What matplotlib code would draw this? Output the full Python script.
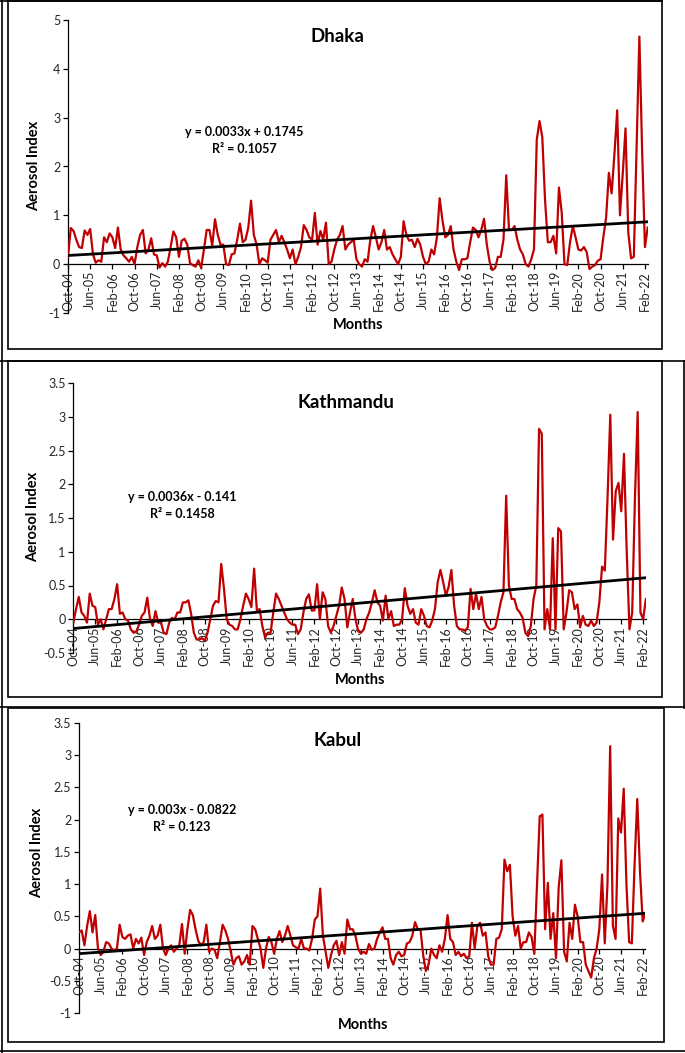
import matplotlib
matplotlib.use('Agg')
import matplotlib.pyplot as plt
from matplotlib.lines import Line2D
from matplotlib.patches import Rectangle
import numpy as np
import pandas as pd

plt.rcParams['font.family'] = ['Lato', 'DejaVu Sans']
plt.rcParams['axes.unicode_minus'] = False

# ---------------- data ----------------
months = pd.date_range('2004-10-01', periods=210, freq='MS').strftime('%b-%y').tolist()

dhaka = [0.15, 0.74, 0.68, 0.5, 0.35, 0.33, 0.69, 0.6, 0.72, 0.2,
         0.03, 0.08, 0.05, 0.55, 0.45, 0.63, 0.55, 0.33, 0.75, 0.3,
         0.18, 0.12, 0.05, 0.15, 0.0, 0.35, 0.6, 0.7, 0.22, 0.3,
         0.53, 0.2, 0.18, -0.07, 0.02, -0.05, 0.05, 0.35, 0.67, 0.55,
         0.15, 0.48, 0.52, 0.4, 0.02, -0.02, -0.05, 0.08, -0.08, 0.3,
         0.7, 0.7, 0.38, 0.92, 0.6, 0.4, 0.4, 0.0, -0.02, 0.2,
         0.22, 0.5, 0.83, 0.45, 0.5, 0.75, 1.3, 0.6, 0.4, 0.0,
         0.12, 0.08, 0.03, 0.5, 0.6, 0.7, 0.45, 0.58, 0.45, 0.3,
         0.12, 0.3, 0.0, 0.15, 0.35, 0.8, 0.7, 0.55, 0.5, 1.05,
         0.4, 0.68, 0.5, 0.85, 0.0, 0.05, 0.3, 0.5, 0.6, 0.78,
         0.3, 0.4, 0.45, 0.5, 0.1, 0.0, -0.05, 0.1, 0.05, 0.5,
         0.78, 0.55, 0.3, 0.45, 0.7, 0.3, 0.35, 0.2, 0.1, 0.0,
         0.15, 0.88, 0.6, 0.48, 0.5, 0.35, 0.52, 0.4, 0.15, 0.0,
         0.05, 0.3, 0.2, 0.55, 1.35, 0.9, 0.55, 0.6, 0.78, 0.3,
         0.05, -0.12, 0.1, 0.1, 0.12, 0.45, 0.75, 0.7, 0.55, 0.7,
         0.93, 0.4, 0.05, -0.12, -0.08, 0.15, 0.15, 0.5, 1.82, 0.7,
         0.7, 0.78, 0.5, 0.3, 0.2, 0.0, -0.05, 0.1, 0.3, 2.55,
         2.93, 2.6, 1.3, 0.45, 0.45, 0.58, 0.22, 1.57, 1.05, 0.0,
         -0.02, 0.45, 0.78, 0.55, 0.3, 0.28, 0.35, 0.25, -0.1, -0.05,
         -0.02, 0.07, 0.1, 0.55, 0.95, 1.87, 1.45, 2.25, 3.15, 1.0,
         1.85, 2.78, 0.65, 0.12, 0.15, 2.4, 4.66, 2.3, 0.35, 0.75]

kathmandu = [-0.05, 0.15, 0.33, 0.1, 0.05, -0.05, 0.38, 0.2, 0.18, -0.08,
             0.0, -0.15, 0.0, 0.15, 0.15, 0.3, 0.52, 0.08, 0.1, 0.0,
             -0.02, -0.15, -0.2, -0.18, -0.08, 0.05, 0.1, 0.32, 0.0, -0.1,
             0.12, -0.05, -0.05, -0.2, -0.22, -0.05, 0.02, 0.0, 0.1, 0.1,
             0.25, 0.25, 0.28, 0.08, -0.2, -0.3, -0.3, -0.28, -0.32, -0.2,
             0.0, 0.2, 0.27, 0.25, 0.82, 0.45, 0.0, -0.08, -0.1, -0.15,
             -0.15, 0.0, 0.2, 0.38, 0.3, 0.18, 0.75, 0.13, 0.15, -0.1,
             -0.27, -0.2, -0.2, 0.1, 0.38, 0.3, 0.2, 0.1, 0.0, -0.05,
             -0.08, -0.08, -0.22, -0.15, 0.1, 0.3, 0.37, 0.13, 0.13, 0.52,
             0.0, 0.4, 0.3, -0.1, -0.2, -0.1, 0.05, 0.2, 0.47, 0.3,
             -0.12, 0.1, 0.3, 0.0, -0.18, -0.2, -0.15, 0.0, 0.1, 0.25,
             0.43, 0.25, 0.2, -0.02, 0.35, 0.0, 0.12, -0.1, -0.08, -0.08,
             0.0, 0.46, 0.2, 0.08, 0.15, -0.05, -0.08, 0.15, 0.05, -0.1,
             -0.12, -0.02, 0.15, 0.55, 0.73, 0.55, 0.35, 0.48, 0.73, 0.2,
             -0.1, -0.15, -0.15, -0.17, -0.12, 0.45, 0.15, 0.38, 0.15, 0.33,
             0.0, -0.1, -0.15, -0.15, -0.12, 0.05, 0.25, 0.4, 1.83, 0.5,
             0.3, 0.3, 0.15, 0.1, 0.02, -0.2, -0.25, -0.1, 0.3, 0.5,
             2.82, 2.75, -0.15, 0.15, -0.15, 1.2, -0.15, 1.35, 1.3, -0.15,
             0.1, 0.43, 0.4, 0.15, 0.22, -0.12, 0.05, -0.08, -0.1, -0.02,
             -0.1, -0.05, 0.25, 0.78, 0.72, 1.8, 3.03, 1.18, 1.9, 2.02,
             1.6, 2.45, 1.0, -0.15, 0.1, 1.8, 3.07, 0.1, 0.0, 0.3]

kabul = [0.25, 0.28, 0.05, 0.35, 0.58, 0.25, 0.52, 0.0, -0.1, -0.05,
         0.1, 0.08, 0.0, -0.03, 0.0, 0.37, 0.18, 0.15, 0.2, 0.22,
         0.0, 0.15, 0.08, 0.17, -0.1, 0.1, 0.2, 0.35, 0.15, 0.2,
         0.37, 0.0, -0.1, 0.0, 0.05, -0.05, 0.0, 0.05, 0.38, -0.08,
         0.3, 0.6, 0.52, 0.3, 0.12, 0.05, 0.1, 0.37, -0.05, 0.0,
         -0.02, -0.15, 0.1, 0.37, 0.28, 0.15, -0.05, -0.25, -0.15, -0.12,
         -0.25, -0.2, -0.1, -0.25, 0.35, 0.3, 0.15, 0.0, -0.3, 0.0,
         0.18, 0.1, -0.08, 0.15, 0.27, 0.1, 0.2, 0.35, 0.2, 0.05,
         0.02, 0.0, 0.15, 0.0, 0.0, -0.03, 0.15, 0.45, 0.5, 0.93,
         0.2, -0.05, -0.3, -0.1, 0.05, 0.12, -0.1, 0.1, -0.08, 0.45,
         0.3, 0.3, 0.2, 0.0, -0.08, -0.05, -0.08, 0.07, -0.02, 0.0,
         0.15, 0.25, 0.33, 0.15, 0.15, -0.15, -0.25, -0.1, -0.05, -0.12,
         -0.1, 0.08, 0.1, 0.2, 0.41, 0.3, 0.3, -0.1, -0.35, -0.25,
         0.0, -0.1, -0.15, 0.05, -0.05, 0.15, 0.52, 0.15, 0.1, -0.1,
         -0.05, -0.12, -0.08, -0.15, -0.12, 0.4, 0.0, 0.35, 0.4, 0.2,
         0.25, -0.12, -0.25, -0.25, 0.15, 0.17, 0.3, 1.38, 1.2, 1.3,
         0.5, 0.2, 0.35, 0.0, 0.1, 0.1, 0.25, 0.18, -0.08, 1.0,
         2.05, 2.08, 0.3, 1.02, 0.15, 0.55, -0.15, 0.95, 1.37, -0.05,
         -0.2, 0.4, 0.15, 0.68, 0.5, 0.1, 0.1, -0.25, -0.35, -0.45,
         -0.15, 0.0, 0.3, 1.15, 0.08, 1.0, 3.14, 0.35, 0.15, 2.02,
         1.8, 2.48, 1.0, 0.1, 0.08, 1.3, 2.32, 1.2, 0.42, 0.55]

titles = ['Dhaka', 'Kathmandu', 'Kabul']
slopes = [0.0033, 0.0036, 0.003]
intercepts = [0.1745, -0.141, -0.0822]
equations = ['y = 0.0033x + 0.1745', 'y = 0.0036x - 0.141', 'y = 0.003x - 0.0822']
r2_texts = ['R\u00b2 = 0.1057', 'R\u00b2 = 0.1458', 'R\u00b2 = 0.123']
y_ticks = [np.arange(-1, 5.01, 1), np.arange(-0.5, 3.51, 0.5), np.arange(-1, 3.51, 0.5)]
series = [dhaka, kathmandu, kabul]

# ---------------- layout (pixels) ----------------
W, H = 685, 1053
fig = plt.figure(figsize=(W / 100, H / 100), dpi=100)

def frac_rect(l, t, r, b):
    return [l / W, 1 - b / H, (r - l) / W, (b - t) / H]

def fx(x):
    return x / W

def fy(y):
    return 1 - y / H

panels = [
    dict(rect=(68, 20, 647.7, 313), title=(337, 37), eq=(244, 132), r2=(244, 149),
         ylab=(34, 166), xlab=(358, 325)),
    dict(rect=(73.3, 383, 645.9, 653), title=(346, 402), eq=(182, 497), r2=(182, 514),
         ylab=(33, 517), xlab=(360, 680)),
    dict(rect=(79, 723, 645.4, 1013), title=(338, 740), eq=(182, 810), r2=(182, 827),
         ylab=(37, 853), xlab=(363, 1025)),
]

red = '#C00000'
tick_col = '#262626'

for k, p in enumerate(panels):
    ax = fig.add_axes(frac_rect(*p['rect']))
    vals = series[k]
    n = len(vals)
    idx = np.arange(n)
    ax.plot(idx, vals, color=red, lw=1.6, solid_joinstyle='round', zorder=3)
    xt = np.arange(1, n + 1)
    ax.plot(idx, slopes[k] * xt + intercepts[k], color='black', lw=2.0, zorder=4)
    yt = y_ticks[k]
    ax.set_xlim(0, n - 1)
    ax.set_ylim(yt[0], yt[-1])
    ax.set_yticks(yt)
    ax.set_yticklabels(['%g' % v for v in yt])
    ax.set_xticks(idx[::8])
    ax.set_xticklabels([months[i] for i in idx[::8]])
    for s in ['top', 'right']:
        ax.spines[s].set_visible(False)
    ax.spines['bottom'].set_position(('data', 0))
    ax.spines['bottom'].set_color('black')
    ax.spines['left'].set_color('black')
    ax.spines['bottom'].set_linewidth(0.9)
    ax.spines['left'].set_linewidth(0.9)
    ax.tick_params(axis='x', direction='out', length=3.5, width=0.9, pad=1.5,
                   labelrotation=90, labelsize=9, labelcolor=tick_col)
    ax.tick_params(axis='y', direction='out', length=3.5, width=0.9, pad=2,
                   labelsize=9, labelcolor=tick_col)
    ax.patch.set_alpha(0)

    fig.text(fx(p['title'][0]), fy(p['title'][1]), titles[k], ha='center', va='center',
             fontsize=13.5, fontweight='bold')
    fig.text(fx(p['eq'][0]), fy(p['eq'][1]), equations[k], ha='center', va='center',
             fontsize=9, fontweight='bold')
    fig.text(fx(p['r2'][0]), fy(p['r2'][1]), r2_texts[k], ha='center', va='center',
             fontsize=9, fontweight='bold')
    fig.text(fx(p['ylab'][0]), fy(p['ylab'][1]), 'Aerosol Index', ha='center', va='center',
             rotation=90, fontsize=10.5, fontweight='bold')
    fig.text(fx(p['xlab'][0]), fy(p['xlab'][1]), 'Months', ha='center', va='center',
             fontsize=10.5, fontweight='bold')

# ---------------- frames ----------------
def box(l, t, r, b, lw=1.2, color='black'):
    fig.add_artist(Rectangle((fx(l), fy(b)), (r - l) / W, (b - t) / H, fill=False,
                             edgecolor=color, lw=lw, transform=fig.transFigure))

def line(x0, y0, x1, y1, lw=1.2, color='black'):
    fig.add_artist(Line2D([fx(x0), fx(x1)], [fy(y0), fy(y1)], color=color, lw=lw,
                          transform=fig.transFigure))

box(7.5, 1, 662, 349)
box(7.5, 361, 662, 697)
box(7.5, 708, 664, 1042)
line(1.5, 0, 1.5, 1053)
line(0, 0.6, 662, 0.6)
line(0, 361, 685, 361)
line(684, 361, 684, 708)
line(0, 707, 685, 707)
line(0, 1051, 685, 1051)

fig.savefig('out.png', dpi=100)
